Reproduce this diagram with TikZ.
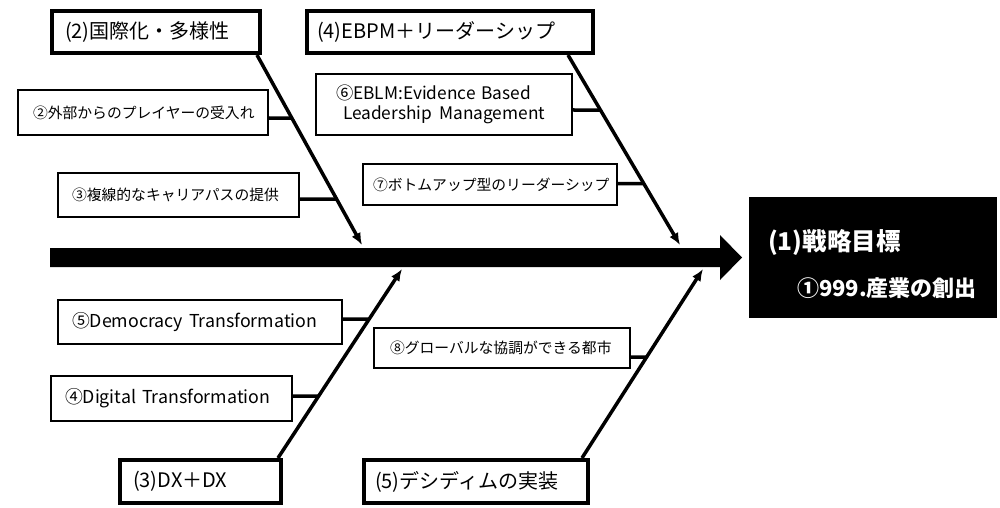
\documentclass[tikz,border=0pt]{standalone}
\usepackage{fontspec}
\setmainfont{Noto Sans CJK JP}
\usetikzlibrary{arrows.meta}

\tikzset{
  cat/.style={draw, line width=4pt, inner ysep=0pt, minimum height=42pt,
    align=left, font=\fontsize{20}{24}\selectfont},
  item/.style={draw, line width=1.8pt, inner ysep=0pt, align=left,
    font=\fontsize{14.8}{18}\selectfont},
  itemen/.style={item, font=\fontsize{17.8}{22}\selectfont},
  bone/.style={line width=3.5pt, -{Latex[length=12pt,width=10pt]}},
  twig/.style={line width=3.5pt},
  goal/.style={text=white, inner sep=0pt, anchor=west, font=\bfseries},
}

\begin{document}
\begin{tikzpicture}[x=1pt,y=-1pt]
\useasboundingbox (0,0) rectangle (1000,508);
\fill[white] (0,0) rectangle (1000,508);

% main spine with its arrow head
\fill[black] (50,248) -- (720,248) -- (720,235) -- (742,257.5)
  -- (720,280) -- (720,267) -- (50,267) -- cycle;

% category boxes
\node[cat, inner xsep=13pt, text width=182pt] (c2) at (156,32) {(2)国際化・多様性};
\node[cat, inner xsep=10pt, text width=266pt] (c4) at (450,32) {(4)EBPM＋リーダーシップ};
\node[cat, inner xsep=13pt, text width=135pt, minimum height=43pt] (c3) at (200.5,481.5) {(3)DX＋DX};
\node[cat, inner xsep=11pt, text width=202pt, minimum height=43pt] (c5) at (476,481.5) {(5)デシディムの実装};

% item boxes
\node[item, inner xsep=15pt, text width=220pt, minimum height=45pt] (s2) at (143,112.5) {②外部からのプレイヤーの受入れ};
\node[item, inner xsep=14pt, text width=213pt, minimum height=44pt] (s3) at (178.5,195) {③複線的なキャリアパスの提供};
\node[itemen, inner xsep=20pt, text width=216pt, minimum height=61pt, font=\fontsize{17.3}{22}\selectfont] (s6) at (444,104.5)
  {⑥EBLM:Evidence Based\\[-2pt]\hspace*{7pt}Leadership\hspace{7pt}Management};
\node[item, inner xsep=10pt, text width=234pt, minimum height=41pt] (s7) at (490,184.5) {⑦ボトムアップ型のリーダーシップ};
\node[itemen, inner xsep=14pt, text width=256pt, minimum height=44pt] (s5) at (200,322) {⑤Democracy Transformation};
\node[itemen, inner xsep=14pt, text width=213pt, minimum height=45pt] (s4) at (171.5,398.5) {④Digital Transformation};
\node[item, inner xsep=16pt, text width=224pt, minimum height=40pt] (s8) at (502,348) {⑧グローバルな協調ができる都市};

% goal box
\node[fill=black, minimum width=248pt, minimum height=121pt, inner sep=0pt] (res) at (873,257.5) {};
\node[goal, font=\bfseries\fontsize{24.5}{28}\selectfont] (g1) at ([xshift=19pt,yshift=14.5pt]res.west) {(1)戦略目標};
\node[goal, font=\bfseries\fontsize{22}{26}\selectfont] (g2) at ([xshift=48pt,yshift=-30.5pt]res.west) {①999.産業の創出};

% bone start and tip points
\coordinate (b2) at ([xshift=-5pt]c2.south east);
\coordinate (b4) at ([xshift=-27pt]c4.south east);
\coordinate (b3) at ([xshift=-5pt]c3.north east);
\coordinate (b5) at ([xshift=-8pt]c5.north east);
\coordinate (t2) at (362,245);
\coordinate (t4) at (680,245);
\coordinate (t3) at (402,269);
\coordinate (t5) at (703,269);

\draw[bone] (b2) -- (t2);
\draw[bone] (b4) -- (t4);
\draw[bone] (b3) -- (t3);
\draw[bone] (b5) -- (t5);

% twig start points on the item boxes
\coordinate (a2) at ([yshift=-5.5pt]s2.east);
\coordinate (a3) at ([yshift=-4pt]s3.east);
\coordinate (a6) at ([yshift=-5.5pt]s6.east);
\coordinate (a7) at ([yshift=1pt]s7.east);
\coordinate (a5) at ([yshift=3pt]s5.east);
\coordinate (a4) at ([yshift=2.5pt]s4.east);
\coordinate (a8) at ([yshift=-9pt]s8.east);
\coordinate (a2x) at ([xshift=100pt]a2);
\coordinate (a3x) at ([xshift=100pt]a3);
\coordinate (a6x) at ([xshift=100pt]a6);
\coordinate (a7x) at ([xshift=100pt]a7);
\coordinate (a5x) at ([xshift=100pt]a5);
\coordinate (a4x) at ([xshift=100pt]a4);
\coordinate (a8x) at ([xshift=100pt]a8);

\draw[twig] (a2) -- (intersection of a2--a2x and b2--t2);
\draw[twig] (a3) -- (intersection of a3--a3x and b2--t2);
\draw[twig] (a6) -- (intersection of a6--a6x and b4--t4);
\draw[twig] (a7) -- (intersection of a7--a7x and b4--t4);
\draw[twig] (a5) -- (intersection of a5--a5x and b3--t3);
\draw[twig] (a4) -- (intersection of a4--a4x and b3--t3);
\draw[twig] (a8) -- (intersection of a8--a8x and b5--t5);
\end{tikzpicture}
\end{document}
